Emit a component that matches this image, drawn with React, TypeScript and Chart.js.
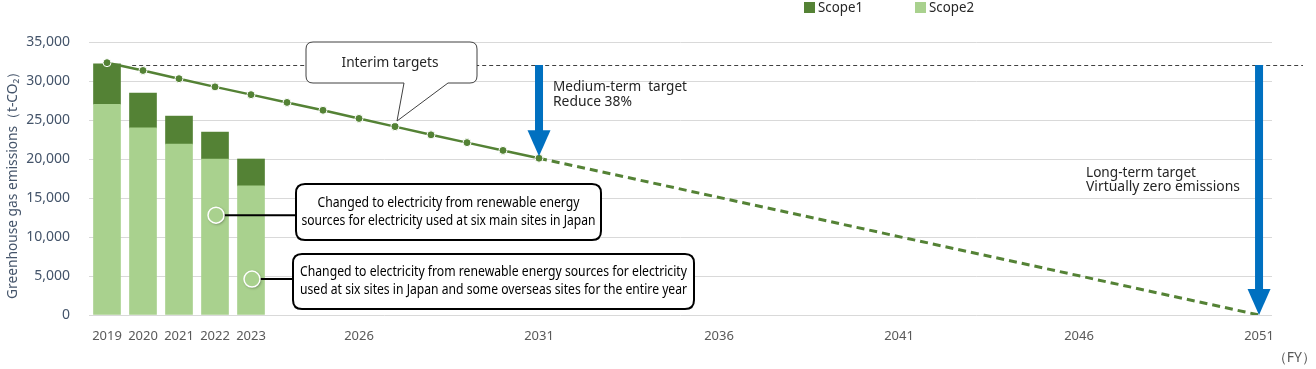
import React, { useEffect, useRef } from "react";
import { Chart, registerables } from "chart.js";

Chart.register(...registerables);

// ---- data ----
const barYears = [2019, 2020, 2021, 2022, 2023];
const scope1 = [5200, 4450, 3600, 3450, 3450];
const scope2 = [27000, 24000, 21900, 20000, 16550];

const interimYears = [2019, 2020, 2021, 2022, 2023, 2024, 2025, 2026, 2027, 2028, 2029, 2030, 2031];
const interimValues = [32350, 31350, 30300, 29250, 28250, 27250, 26250, 25200, 24150, 23100, 22100, 21100, 20100];

const longTermYears = [2031, 2051];
const longTermValues = [20100, 0];

const baseValue = 32050;
const tickYears = [2019, 2020, 2021, 2022, 2023, 2026, 2031, 2036, 2041, 2046, 2051];

const markerYears = [2022, 2023];
const markerValues = [12800, 4600];

const FONT = '"Noto Sans", "Open Sans", sans-serif';
const DARK_GREEN = "#548235";
const LIGHT_GREEN = "#A9D18E";
const BLUE = "#0070C0";

function roundRectPath(ctx: CanvasRenderingContext2D, x: number, y: number, w: number, h: number, r: number) {
  ctx.beginPath();
  ctx.moveTo(x + r, y);
  ctx.lineTo(x + w - r, y);
  ctx.quadraticCurveTo(x + w, y, x + w, y + r);
  ctx.lineTo(x + w, y + h - r);
  ctx.quadraticCurveTo(x + w, y + h, x + w - r, y + h);
  ctx.lineTo(x + r, y + h);
  ctx.quadraticCurveTo(x, y + h, x, y + h - r);
  ctx.lineTo(x, y + r);
  ctx.quadraticCurveTo(x, y, x + r, y);
  ctx.closePath();
}

function drawArrow(ctx: CanvasRenderingContext2D, cx: number, y0: number, y1: number) {
  const shaft = 8, headW = 23, headL = 26;
  ctx.fillStyle = BLUE;
  ctx.fillRect(cx - shaft / 2, y0, shaft, y1 - headL - y0 + 1);
  ctx.beginPath();
  ctx.moveTo(cx - headW / 2, y1 - headL);
  ctx.lineTo(cx + headW / 2, y1 - headL);
  ctx.lineTo(cx, y1);
  ctx.closePath();
  ctx.fill();
}

function text(ctx: CanvasRenderingContext2D, s: string, x: number, y: number, size: number, color: string, align: CanvasTextAlign, maxW?: number) {
  ctx.font = `${size}px ${FONT}`;
  ctx.fillStyle = color;
  ctx.textAlign = align;
  ctx.textBaseline = "middle";
  const w = ctx.measureText(s).width;
  if (maxW && w > maxW) ctx.fillText(s, x, y, maxW);
  else ctx.fillText(s, x, y);
}

const annotPlugin = {
  id: "annot",
  afterDatasetsDraw(chart: any) {
    const ctx: CanvasRenderingContext2D = chart.ctx;
    const xs = chart.scales.x;
    const ys = chart.scales.y;
    ctx.save();

    // baseline dashed line
    const by = Math.round(ys.getPixelForValue(baseValue)) + 0.5;
    ctx.strokeStyle = "#404040";
    ctx.lineWidth = 1;
    ctx.setLineDash([4, 3]);
    ctx.beginPath();
    ctx.moveTo(xs.getPixelForValue(2019.7), by);
    ctx.lineTo(chart.width - 13, by);
    ctx.stroke();
    ctx.setLineDash([]);

    // arrows
    drawArrow(ctx, xs.getPixelForValue(2031), by - 0.5, ys.getPixelForValue(interimValues[interimValues.length - 1]) - 2);
    drawArrow(ctx, xs.getPixelForValue(2051), by - 0.5, ys.getPixelForValue(0));

    // interim targets callout
    ctx.beginPath();
    const bx = 306, byy = 42, bw = 171, bh = 41, r = 7;
    ctx.moveTo(bx + r, byy);
    ctx.lineTo(bx + bw - r, byy);
    ctx.quadraticCurveTo(bx + bw, byy, bx + bw, byy + r);
    ctx.lineTo(bx + bw, byy + bh - r);
    ctx.quadraticCurveTo(bx + bw, byy + bh, bx + bw - r, byy + bh);
    ctx.lineTo(448, byy + bh);
    ctx.lineTo(397, 121);
    ctx.lineTo(404, byy + bh);
    ctx.lineTo(bx + r, byy + bh);
    ctx.quadraticCurveTo(bx, byy + bh, bx, byy + bh - r);
    ctx.lineTo(bx, byy + r);
    ctx.quadraticCurveTo(bx, byy, bx + r, byy);
    ctx.closePath();
    ctx.fillStyle = "#fff";
    ctx.fill();
    ctx.strokeStyle = "#404040";
    ctx.lineWidth = 1;
    ctx.stroke();
    text(ctx, "Interim targets", 390, 63, 14, "#262626", "center", 97);

    // target texts
    text(ctx, "Medium-term  target", 553, 87, 14, "#262626", "left", 134);
    text(ctx, "Reduce 38%", 553, 102, 14, "#262626", "left", 79);
    text(ctx, "Long-term target", 1086, 173, 14, "#262626", "left", 110);
    text(ctx, "Virtually zero emissions", 1086, 187, 14, "#262626", "left", 154);

    // markers + connectors + boxes
    const boxes = [
      { x: 296, y: 184, w: 305, h: 56, lines: ["Changed to electricity from renewable energy", "sources for electricity used at six main sites in Japan"], widths: [262, 294] },
      { x: 293, y: 254, w: 401, h: 55, lines: ["Changed to electricity from renewable energy sources for electricity", "used at six sites in Japan and some overseas sites for the entire year"], widths: [387, 387] },
    ];
    markerYears.forEach((yr, i) => {
      const mx = xs.getPixelForValue(yr) + 1;
      const my = ys.getPixelForValue(markerValues[i]);
      const b = boxes[i];
      ctx.strokeStyle = "#000";
      ctx.lineWidth = 2;
      ctx.beginPath();
      ctx.moveTo(mx, my);
      ctx.lineTo(b.x, my);
      ctx.stroke();
      ctx.save();
      ctx.shadowColor = "rgba(0,0,0,0.4)";
      ctx.shadowBlur = 3;
      ctx.shadowOffsetX = 1;
      ctx.shadowOffsetY = 1;
      ctx.beginPath();
      ctx.arc(mx, my, 8, 0, Math.PI * 2);
      ctx.fillStyle = LIGHT_GREEN;
      ctx.fill();
      ctx.restore();
      ctx.beginPath();
      ctx.arc(mx, my, 8, 0, Math.PI * 2);
      ctx.strokeStyle = "#fff";
      ctx.lineWidth = 1.5;
      ctx.stroke();

      roundRectPath(ctx, b.x, b.y, b.w, b.h, 9);
      ctx.fillStyle = "#fff";
      ctx.fill();
      ctx.strokeStyle = "#000";
      ctx.lineWidth = 2;
      ctx.stroke();
      const cx = b.x + b.w / 2;
      text(ctx, b.lines[0], cx, b.y + b.h / 2 - 9, 14, "#000", "center", b.widths[0]);
      text(ctx, b.lines[1], cx, b.y + b.h / 2 + 9, 14, "#000", "center", b.widths[1]);
    });

    ctx.restore();
  },
  afterDraw(chart: any) {
    const ctx: CanvasRenderingContext2D = chart.ctx;
    ctx.save();
    // legend
    ctx.fillStyle = DARK_GREEN;
    ctx.fillRect(804, 2, 11, 11);
    text(ctx, "Scope1", 818, 8, 14, "#262626", "left", 45);
    ctx.fillStyle = LIGHT_GREEN;
    ctx.fillRect(915, 2, 11, 11);
    text(ctx, "Scope2", 929, 8, 14, "#262626", "left", 45);

    // y title
    ctx.save();
    ctx.translate(13, 182);
    ctx.rotate(-Math.PI / 2);
    text(ctx, "Greenhouse gas emissions（t-CO₂）", 0, 0, 14, "#44546A", "center", 234);
    ctx.restore();

    // FY
    text(ctx, "（FY）", 1316, 358, 14, "#595959", "right");
    ctx.restore();
  },
};

export default function App() {
  const ref = useRef<HTMLCanvasElement | null>(null);

  useEffect(() => {
    document.body.style.margin = "0";
    if (!ref.current) return;
    const chart = new Chart(ref.current, {
      type: "bar",
      data: {
        datasets: [
          {
            type: "bar",
            label: "Scope2",
            data: barYears.map((x, i) => ({ x, y: scope2[i] })),
            backgroundColor: LIGHT_GREEN,
            barThickness: 27,
            stack: "s",
            order: 3,
          },
          {
            type: "bar",
            label: "Scope1",
            data: barYears.map((x, i) => ({ x, y: scope1[i] })),
            backgroundColor: DARK_GREEN,
            barThickness: 27,
            stack: "s",
            order: 3,
          },
          {
            type: "line",
            label: "Long-term",
            data: longTermYears.map((x, i) => ({ x, y: longTermValues[i] })),
            borderColor: DARK_GREEN,
            borderWidth: 3,
            borderDash: [8, 5],
            pointRadius: 0,
            stack: "l2",
            order: 2,
          } as any,
          {
            type: "line",
            label: "Interim",
            data: interimYears.map((x, i) => ({ x, y: interimValues[i] })),
            borderColor: DARK_GREEN,
            borderWidth: 2.5,
            pointRadius: 4,
            pointBackgroundColor: DARK_GREEN,
            pointBorderColor: "#ffffff",
            pointBorderWidth: 1,
            stack: "l1",
            order: 1,
          } as any,
        ],
      },
      options: {
        animation: false,
        responsive: false,
        maintainAspectRatio: false,
        layout: { padding: { left: 0, top: 42, right: 44, bottom: 0 } },
        plugins: {
          legend: { display: false },
          tooltip: { enabled: false },
        },
        scales: {
          x: {
            type: "linear",
            stacked: true,
            offset: false,
            min: 2018.5,
            max: 2051.36,
            grid: { display: false, drawTicks: false, offset: false },
            border: { display: false },
            afterBuildTicks: (scale: any) => {
              scale.ticks = tickYears.map((v) => ({ value: v }));
            },
            afterFit: (scale: any) => {
              scale.height = 54;
            },
            ticks: {
              autoSkip: false,
              maxRotation: 0,
              padding: 13,
              color: "#595959",
              font: { family: FONT, size: 13 },
              callback: (v: any) => String(v),
            },
          },
          y: {
            stacked: true,
            min: 0,
            max: 35000,
            grid: { color: "#D9D9D9", lineWidth: 1, drawTicks: false },
            border: { display: false },
            afterFit: (scale: any) => {
              scale.width = 89;
            },
            ticks: {
              stepSize: 5000,
              padding: 19,
              color: "#44546A",
              font: { family: FONT, size: 14 },
              callback: (v: any) => Number(v).toLocaleString("en-US"),
            },
          },
        },
      },
      plugins: [annotPlugin],
    });
    return () => chart.destroy();
  }, []);

  return (
    <div style={{ width: 1316, height: 369 }}>
      <canvas ref={ref} width={1316} height={369} style={{ width: 1316, height: 369, display: "block" }} />
    </div>
  );
}
